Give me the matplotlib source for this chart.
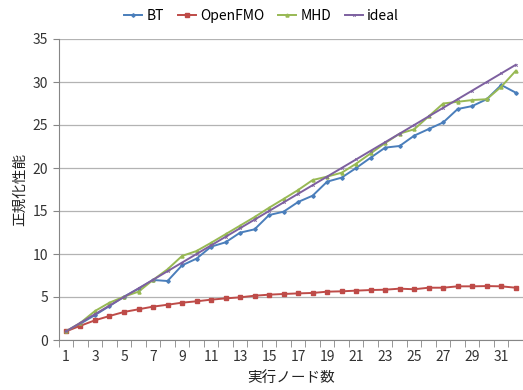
import matplotlib
matplotlib.use('Agg')
import matplotlib.pyplot as plt
import numpy as np

plt.rcParams['font.family'] = ['Noto Sans CJK JP', 'DejaVu Sans']

# Données
nodes = list(range(1, 33))
bt = [1.0, 1.9, 2.9, 3.95, 5.04, 5.97, 6.98, 6.86, 8.68, 9.46, 10.85, 11.36, 12.48, 12.87, 14.53, 14.92,
      16.05, 16.78, 18.41, 18.88, 20.0, 21.2, 22.37, 22.56, 23.76, 24.53, 25.3, 26.86, 27.2, 28.0, 29.65, 28.76]
openfmo = [1.0, 1.66, 2.29, 2.79, 3.26, 3.57, 3.88, 4.1, 4.34, 4.5, 4.69, 4.84, 4.96, 5.15, 5.27, 5.35,
           5.42, 5.47, 5.62, 5.66, 5.74, 5.81, 5.85, 5.97, 5.9, 6.08, 6.08, 6.24, 6.24, 6.27, 6.24, 6.08]
mhd = [1.0, 2.0, 3.37, 4.34, 5.04, 5.62, 6.98, 8.22, 9.77, 10.35, 11.3, 12.3, 13.3, 14.3, 15.38, 16.4,
       17.44, 18.6, 19.0, 19.45, 20.5, 21.7, 22.9, 24.0, 24.5, 26.0, 27.5, 27.7, 27.9, 28.0, 29.45, 31.3]
ideal = list(range(1, 33))

xlabel = '実行ノード数'
ylabel = '正規化性能'

fig = plt.figure(figsize=(5.23, 3.9), dpi=100)
ax = fig.add_axes([58.7 / 523, 50 / 390, (523 - 58.7) / 523, 301 / 390])

ax.plot(nodes, bt, color='#4a7ebb', lw=1.4, marker='D', ms=1.8, label='BT')
ax.plot(nodes, openfmo, color='#be4b48', lw=1.4, marker='s', ms=2.8, label='OpenFMO')
ax.plot(nodes, mhd, color='#98b954', lw=1.4, marker='^', ms=2.2, label='MHD')
ax.plot(nodes, ideal, color='#7d60a0', lw=1.4, marker='x', ms=1.8, mew=0.6, label='ideal')

ax.set_xlim(0.5, 32.5)
ax.set_ylim(0, 35)
ax.set_yticks(np.arange(0, 36, 5))
ax.set_xticks(nodes[::2])
ax.set_xticks(np.arange(0.5, 33, 1), minor=True)
ax.tick_params(axis='x', which='major', length=0, labelsize=10, pad=7, labelcolor='#333333')
ax.tick_params(axis='x', which='minor', length=5, color='#868686', direction='out')
ax.tick_params(axis='y', length=4, color='#868686', labelsize=10, labelcolor='#333333')
ax.grid(axis='y', color='#b3b3b3', lw=0.9)
ax.set_axisbelow(True)
for s in ['top', 'right']:
    ax.spines[s].set_visible(False)
for s in ['left', 'bottom']:
    ax.spines[s].set_color('#868686')

ax.set_xlabel(xlabel, fontsize=10.5, labelpad=5, color='#222222')
ax.set_ylabel(ylabel, fontsize=10.5, labelpad=4, color='#222222')

fig.legend(loc='upper center', bbox_to_anchor=(0.5, 1.01), ncol=4, frameon=False,
           fontsize=10, handlelength=1.3, handletextpad=0.3, columnspacing=1.0)

plt.savefig('out.png')
plt.close()
